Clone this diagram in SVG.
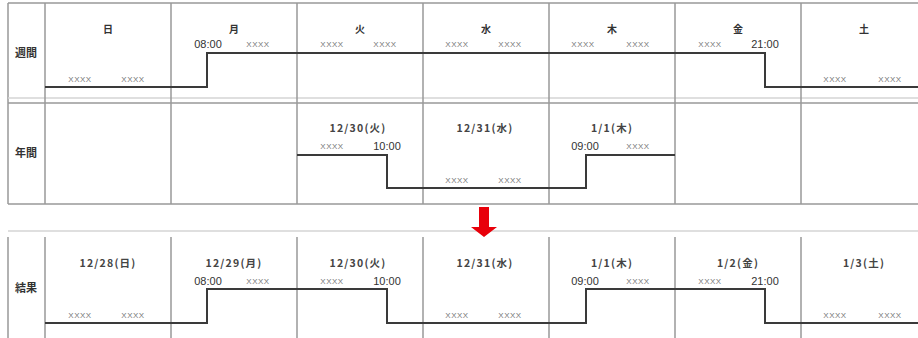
<svg xmlns="http://www.w3.org/2000/svg" width="918" height="338" viewBox="0 0 918 338">
<style>
.grid{stroke:#999;stroke-width:1.5;fill:none}
.faint{stroke:#d4d4d4;stroke-width:1.5;fill:none}
.step{stroke:#3a3a3a;stroke-width:2;fill:none}
text{font-family:"Liberation Sans","Noto Sans CJK JP",sans-serif;fill:#333;text-anchor:middle}
.day{font-size:10px;font-weight:bold;font-family:"Noto Sans CJK JP",sans-serif}
.row{font-size:11px;font-weight:bold;font-family:"Noto Sans CJK JP",sans-serif}
.date{font-size:10.5px;font-weight:bold;font-family:"Noto Sans CJK JP",sans-serif;letter-spacing:1.2px;fill:#444}
.time{font-size:11px}
.x{font-size:8px;fill:#777;letter-spacing:0.5px}
</style>
<rect width="918" height="338" fill="#fff"/>
<g id="grid">
<path class="grid" d="M8,3H918 M8,3V204 M8,204H918 M8,103H918"/>
<path class="faint" d="M8,98H918"/>
<path class="grid" d="M45,3V204 M171,3V204 M297,3V204 M423,3V204 M549,3V204 M675,3V204 M801,3V204"/>
<path class="faint" d="M8,231H918"/>
<path class="grid" d="M8,237V338 M45,237V338 M171,237V338 M297,237V338 M423,237V338 M549,237V338 M675,237V338 M801,237V338"/>
</g>
<g id="row-weekly">
<text class="row" x="26" y="57">週間</text>
<text class="day" x="108" y="33">日</text>
<text class="day" x="234" y="33">月</text>
<text class="day" x="360" y="33">火</text>
<text class="day" x="486" y="33">水</text>
<text class="day" x="612" y="33">木</text>
<text class="day" x="738" y="33">金</text>
<text class="day" x="864" y="33">土</text>
<text class="x" x="80" y="82">XXXX</text><text class="x" x="133" y="82">XXXX</text>
<text class="time" x="208" y="48">08:00</text><text class="x" x="258" y="47">XXXX</text>
<text class="x" x="332" y="47">XXXX</text><text class="x" x="385" y="47">XXXX</text>
<text class="x" x="457" y="47">XXXX</text><text class="x" x="510" y="47">XXXX</text>
<text class="x" x="583" y="47">XXXX</text><text class="x" x="638" y="47">XXXX</text>
<text class="x" x="710" y="47">XXXX</text><text class="time" x="765" y="48">21:00</text>
<text class="x" x="835" y="82">XXXX</text><text class="x" x="890" y="82">XXXX</text>
</g>
<g id="row-annual">
<text class="row" x="26" y="157">年間</text>
<text class="date" x="358" y="132">12/30(火)</text>
<text class="date" x="485" y="132">12/31(水)</text>
<text class="date" x="612" y="132">1/1(木)</text>
<text class="x" x="332" y="149">XXXX</text><text class="time" x="387" y="150">10:00</text>
<text class="x" x="457" y="183">XXXX</text><text class="x" x="510" y="183">XXXX</text>
<text class="time" x="585" y="150">09:00</text><text class="x" x="638" y="149">XXXX</text>
</g>
<g id="row-result">
<text class="row" x="26" y="292">結果</text>
<text class="date" x="108" y="267">12/28(日)</text>
<text class="date" x="234" y="267">12/29(月)</text>
<text class="date" x="358" y="267">12/30(火)</text>
<text class="date" x="485" y="267">12/31(水)</text>
<text class="date" x="612" y="267">1/1(木)</text>
<text class="date" x="738" y="267">1/2(金)</text>
<text class="date" x="864" y="267">1/3(土)</text>
<text class="x" x="80" y="318">XXXX</text><text class="x" x="133" y="318">XXXX</text>
<text class="time" x="208" y="285">08:00</text><text class="x" x="258" y="284">XXXX</text>
<text class="x" x="332" y="284">XXXX</text><text class="time" x="387" y="285">10:00</text>
<text class="x" x="457" y="318">XXXX</text><text class="x" x="510" y="318">XXXX</text>
<text class="time" x="585" y="285">09:00</text><text class="x" x="638" y="284">XXXX</text>
<text class="x" x="710" y="284">XXXX</text><text class="time" x="765" y="285">21:00</text>
<text class="x" x="835" y="318">XXXX</text><text class="x" x="890" y="318">XXXX</text>
</g>
<g id="connectors">
<path class="step" d="M45,87H207V53H765V87H918"/>
<path class="step" d="M297,155H387V188H586V155H675"/>
<path class="step" d="M45,323H207V289H387V323H586V289H765V323H918"/>
<path id="arrow" d="M479,207H489V227H497L484,237L471,227H479Z" fill="#e8000a"/>
</g>
</svg>
